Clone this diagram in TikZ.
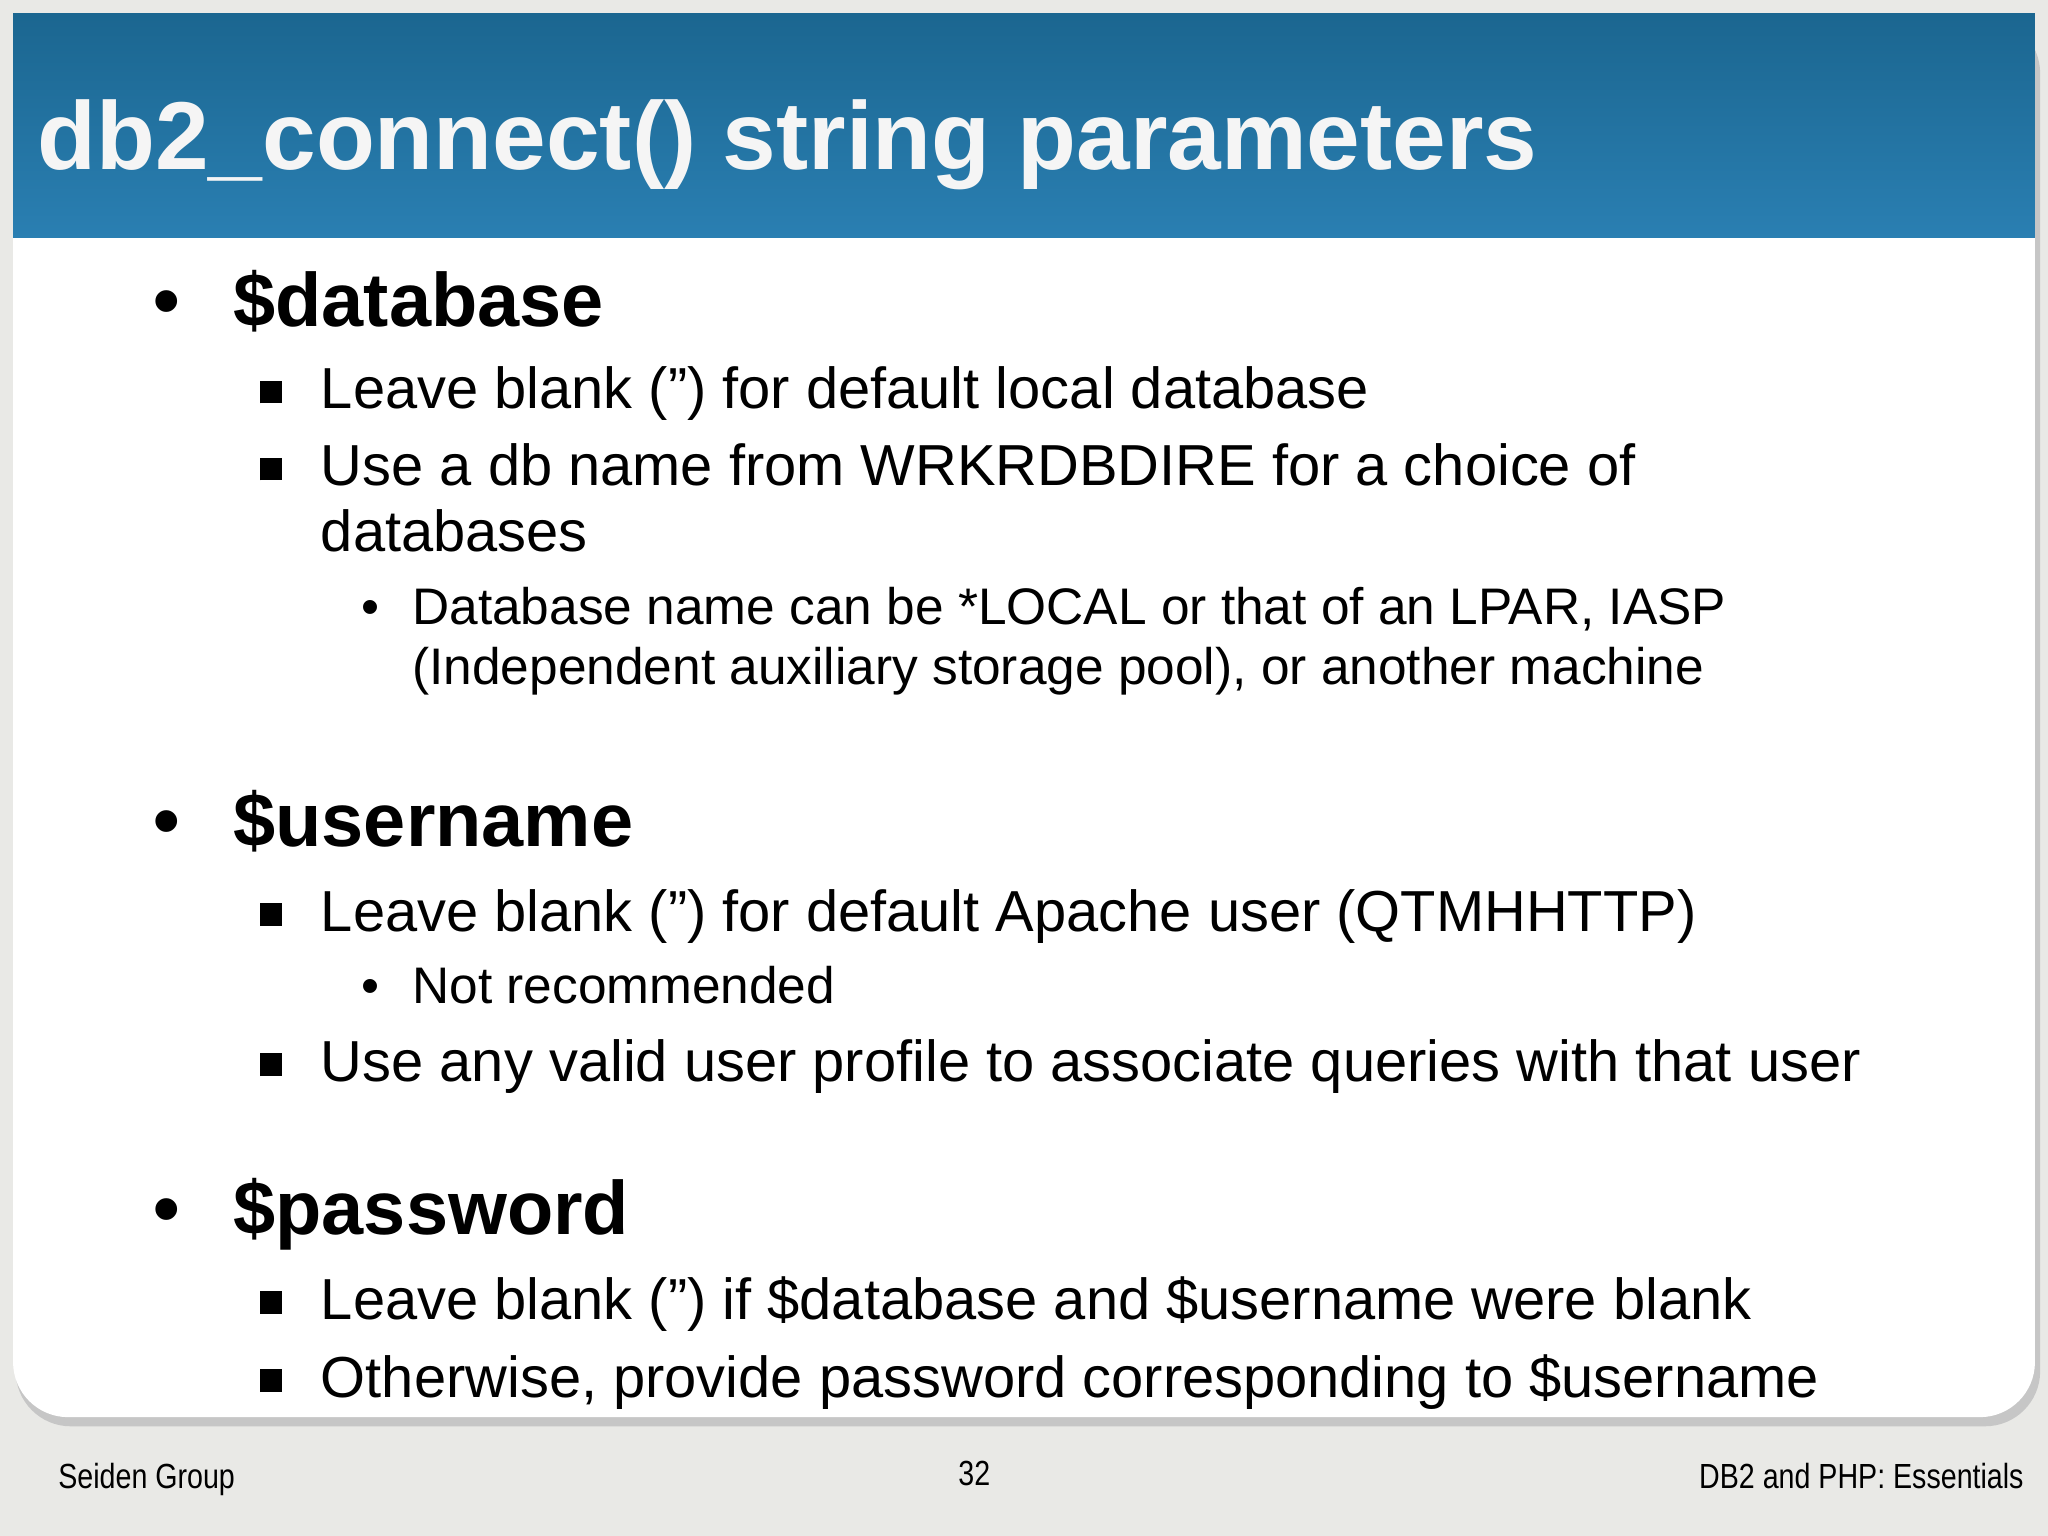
\documentclass[tikz,border=0pt]{standalone}
\usepackage{fontspec}
\setmainfont{Liberation Sans}
\newfontfamily\narrowfont[FakeStretch=0.82]{Liberation Sans}
\begin{document}
\begin{tikzpicture}[x=0.1mm,y=-0.1mm,
  lone/.style={anchor=base west,font=\fontsize{16.5}{18}\selectfont\bfseries,text=black,inner sep=0},
  ltwo/.style={anchor=base west,font=\fontsize{12.6}{14}\selectfont,text=black,inner sep=0},
  lthree/.style={anchor=base west,font=\fontsize{11.2}{13}\selectfont,text=black,inner sep=0},
  foot/.style={anchor=base,font=\narrowfont\fontsize{7.6}{9}\selectfont,text=black,inner sep=0}]
\definecolor{bg}{HTML}{E9E9E6}
\definecolor{hdtop}{HTML}{1B6690}
\definecolor{hdbot}{HTML}{2A7FB2}
\useasboundingbox (0,0) rectangle (1568,1176);
\fill[bg] (0,0) rectangle (1568,1176);
\fill[gray!45,rounded corners=12] (12,14) rectangle (1562,1092);
\fill[white,rounded corners=12] (10,10) rectangle (1558,1085);
\shade[top color=hdtop,bottom color=hdbot] (10,10) rectangle (1558,182);
\node[anchor=base west,inner sep=0,text=white!92!gray,font=\fontsize{21}{24}\selectfont\bfseries] (title) at (28,130) {db2\_connect() string parameters};
% level 1 bullets
\foreach \y/\t/\n in {250/{\$database}/a,648/{\$username}/b,945/{\$password}/c}{
  \node[lone] (b\n) at (117,\y) {•};
  \node[lone] (t\n) at (178,\y) {\t};
}
% level 2
\foreach \y/\t/\n in {313/{Leave blank ('') for default local database}/a1,
  372/{Use a db name from WRKRDBDIRE for a choice of}/a2,
  713/{Leave blank ('') for default Apache user (QTMHHTTP)}/b1,
  828/{Use any valid user profile to associate queries with that user}/b2,
  1010/{Leave blank ('') if \$database and \$username were blank}/c1,
  1070/{Otherwise, provide password corresponding to \$username}/c2}{
  \node[ltwo] (s\n) at (198,\y) {\fontsize{9}{10}\selectfont\raisebox{0.25ex}{\rule{0.55em}{0.55em}}};
  \node[ltwo] (u\n) at (245,\y) {\t};
}
\node[ltwo] (ua2b) at (245,422) {databases};
% level 3
\node[lthree] (da) at (276,478) {•};
\node[lthree] (ea) at (315,478) {Database name can be *LOCAL or that of an LPAR, IASP};
\node[lthree] (eb) at (315,524) {(Independent auxiliary storage pool), or another machine};
\node[lthree] (db) at (276,768) {•};
\node[lthree] (ec) at (315,768) {Not recommended};
% footer
\node[foot,anchor=base west] (f1) at (44,1140) {Seiden Group};
\node[foot] (f2) at (746,1137) {32};
\node[foot,anchor=base east] (f3) at (1550,1140) {DB2 and PHP: Essentials};
\end{tikzpicture}
\end{document}
